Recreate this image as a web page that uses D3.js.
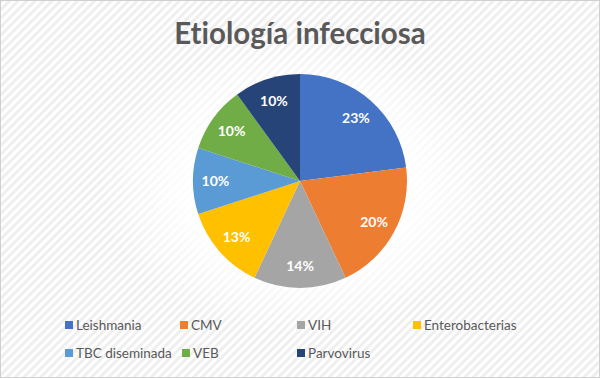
<!DOCTYPE html>
<html><head><meta charset="utf-8">
<script src="https://cdn.jsdelivr.net/npm/d3@7"></script>
<style>html,body{margin:0;padding:0;background:#fff;}svg{display:block;}text{font-variant-ligatures:none;font-feature-settings:"liga" 0,"dlig" 0;}</style>
</head><body>
<script>
const categories = ["Leishmania","CMV","VIH","Enterobacterias","TBC diseminada","VEB","Parvovirus"];
const values = [23,20,14,13,10,10,10];
const colors = ["#4472C4","#ED7D31","#A5A5A5","#FFC000","#5B9BD5","#70AD47","#264478"];
const title = "Etiología infecciosa";

const W=600,H=378;
const svg=d3.select("body").append("svg").attr("width",W).attr("height",H);
const defs=svg.append("defs");
const pat=defs.append("pattern").attr("id","stripes").attr("patternUnits","userSpaceOnUse")
  .attr("width",6).attr("height",6).attr("patternTransform","rotate(45)");
pat.append("rect").attr("width",6).attr("height",6).attr("fill","#ffffff");
pat.append("rect").attr("width",3).attr("height",6).attr("fill","#efefef");
const rg=defs.append("radialGradient").attr("id","glow");
rg.append("stop").attr("offset","0%").attr("stop-color","#fff").attr("stop-opacity",1);
rg.append("stop").attr("offset","60%").attr("stop-color","#fff").attr("stop-opacity",0.85);
rg.append("stop").attr("offset","100%").attr("stop-color","#fff").attr("stop-opacity",0);

svg.append("rect").attr("x",0.5).attr("y",0.5).attr("width",W-1).attr("height",H-1)
  .attr("fill","url(#stripes)").attr("stroke","#d0d0d0");

const cx=300,cy=181,R=107;
svg.append("ellipse").attr("cx",cx).attr("cy",cy+5).attr("rx",200).attr("ry",150).attr("fill","url(#glow)");

svg.append("text").attr("x",300).attr("y",44).attr("text-anchor","middle")
  .attr("font-family","Lato, 'Open Sans', sans-serif").attr("font-weight","bold")
  .attr("font-size",29.5).attr("fill","#595959").text(title);

const pie=d3.pie().sort(null).value(d=>d)(values);
const arc=d3.arc().innerRadius(0).outerRadius(R);
const labelArc=d3.arc().innerRadius(R*0.79).outerRadius(R*0.79);
const g=svg.append("g").attr("transform",`translate(${cx},${cy})`);
g.selectAll("path").data(pie).join("path").attr("d",arc).attr("fill",(d,i)=>colors[i]);
g.selectAll("text").data(pie).join("text")
  .attr("transform",d=>`translate(${labelArc.centroid(d)})`)
  .attr("text-anchor","middle").attr("dy","0.36em")
  .attr("font-family","Lato, 'Open Sans', sans-serif").attr("font-weight","bold")
  .attr("font-size",14).attr("fill","#fff")
  .text(d=>d.data+"%");

const legX=[65,180,297,413,65,182,297];
const legY=[325,325,325,325,353,353,353];
const lg=svg.append("g");
categories.forEach((c,i)=>{
  lg.append("rect").attr("x",legX[i]).attr("y",legY[i]-4).attr("width",8).attr("height",8).attr("fill",colors[i]);
  lg.append("text").attr("x",legX[i]+11).attr("y",legY[i]).attr("dy","0.36em")
    .attr("font-family","Lato, 'Open Sans', sans-serif").attr("font-size",13.5).attr("fill","#595959").text(c);
});
</script>
</body></html>
